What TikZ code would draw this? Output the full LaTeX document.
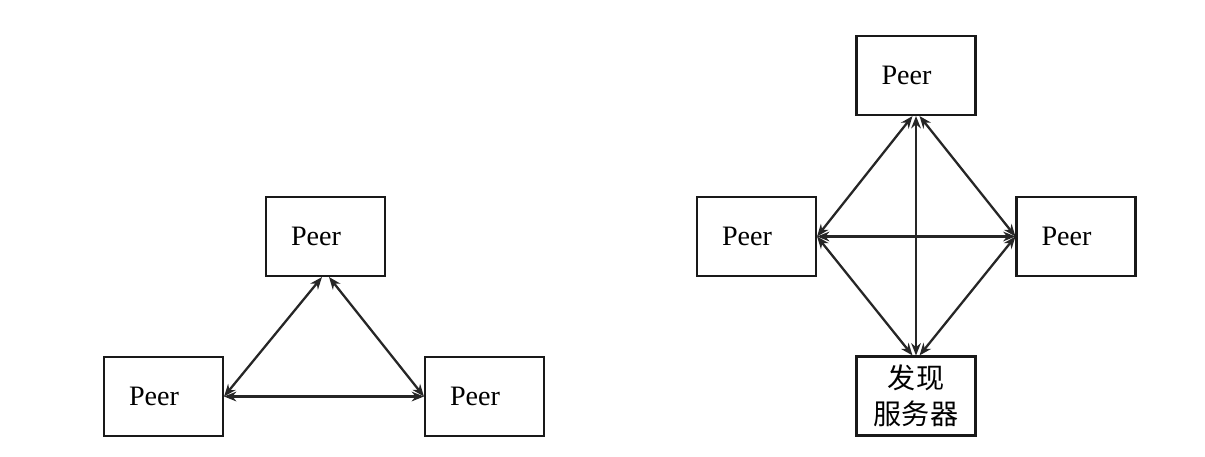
\documentclass[tikz,border=0pt]{standalone}
\usepackage{fontspec}
\setmainfont{Liberation Serif}
\newfontfamily\cjk{Noto Sans CJK SC}
\usetikzlibrary{arrows.meta, positioning}

\begin{document}
\begin{tikzpicture}[
    box/.style={rectangle, draw=black!90, line width=1.2pt, minimum width=2.38cm, minimum height=1.58cm},
    peer/.style={box, inner xsep=0.5cm, text width=1.38cm, align=left, font=\fontsize{16}{19}\selectfont},
    server/.style={box, align=center, font=\cjk\fontsize{16}{20.5}\selectfont},
    arrow/.style={line width=1.3pt, {Stealth[length=7pt,width=5.5pt]}-{Stealth[length=7pt,width=5.5pt]}, draw=black!85}
]

\useasboundingbox (0,0) rectangle (24.1,-9.12);

% Left network
\node (ltop) [peer] at (6.51,-4.73) {Peer};
\node (lleft) [peer] at (3.27,-7.93) {Peer};
\node (lright) [peer] at (9.69,-7.93) {Peer};
\draw [arrow] ([xshift=-2pt]ltop.south) -- (lleft.east);
\draw [arrow] ([xshift=2pt]ltop.south) -- (lright.west);
\draw [arrow] (lleft.east) -- (lright.west);

% Right network
\node (rtop) [peer] at (18.32,-1.51) {Peer};
\node (rleft) [peer] at (15.13,-4.73) {Peer};
\node (rright) [peer] at (21.52,-4.73) {Peer};
\node (rserver) [server] at (18.32,-7.92) {发现\\服务器};
\draw [arrow] ([xshift=-2pt]rtop.south) -- (rleft.east);
\draw [arrow] ([xshift=2pt]rtop.south) -- (rright.west);
\draw [arrow] (rtop.south) -- (rserver.north);
\draw [arrow] (rleft.east) -- (rright.west);
\draw [arrow] ([xshift=-2pt]rserver.north) -- (rleft.east);
\draw [arrow] ([xshift=2pt]rserver.north) -- (rright.west);

\end{tikzpicture}
\end{document}
